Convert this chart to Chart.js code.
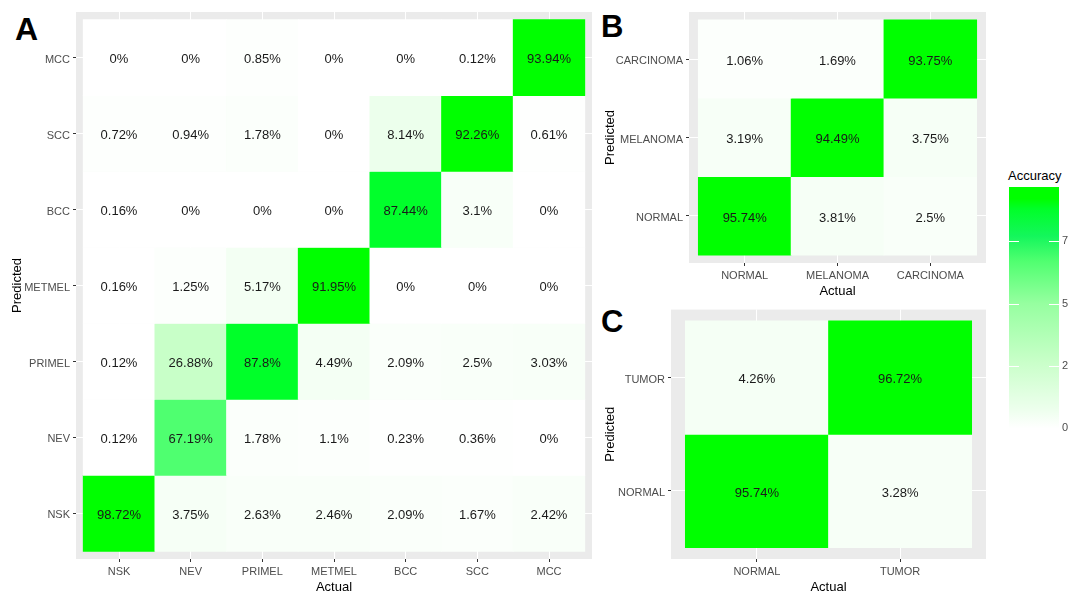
<!DOCTYPE html>
<html>
<head>
<meta charset="utf-8">
<script src="https://cdn.jsdelivr.net/npm/chart.js@4.4.1/dist/chart.umd.min.js"></script>
<style>
  html, body { margin: 0; padding: 0; background: #fff; overflow: hidden; width: 1068px; height: 592px; }
  .box { position: absolute; }
  .tag { position: absolute; font: bold 31px/1 "Liberation Sans", Arial, sans-serif; color: #000; }
  #legTitle { position: absolute; left: 1008px; top: 168px; font: 13px/1.2 "Liberation Sans", Arial, sans-serif; color: #000; }
</style>
</head>
<body>
<div class="tag" style="left:15px;top:13px;font-size:32px">A</div>
<div class="tag" style="left:601px;top:11px">B</div>
<div class="tag" style="left:601px;top:306px">C</div>
<div class="box" style="left:0;top:0;width:600px;height:600px"><canvas id="chartA"></canvas></div>
<div class="box" style="left:590px;top:0;width:410px;height:300px"><canvas id="chartB"></canvas></div>
<div class="box" style="left:590px;top:300px;width:410px;height:300px"><canvas id="chartC"></canvas></div>
<div id="legTitle">Accuracy</div>
<div class="box" style="left:1000px;top:170px;width:80px;height:268px"><canvas id="legendBar"></canvas></div>
<script>
// ---- data (rows = predicted, bottom to top; columns = actual) ----
const labelsA = ["NSK", "NEV", "PRIMEL", "METMEL", "BCC", "SCC", "MCC"];
const valuesA = [
  [98.72, 3.75, 2.63, 2.46, 2.09, 1.67, 2.42],   // NSK
  [0.12, 67.19, 1.78, 1.1, 0.23, 0.36, 0],       // NEV
  [0.12, 26.88, 87.8, 4.49, 2.09, 2.5, 3.03],    // PRIMEL
  [0.16, 1.25, 5.17, 91.95, 0, 0, 0],            // METMEL
  [0.16, 0, 0, 0, 87.44, 3.1, 0],                // BCC
  [0.72, 0.94, 1.78, 0, 8.14, 92.26, 0.61],      // SCC
  [0, 0, 0.85, 0, 0, 0.12, 93.94]                // MCC
];

const labelsB = ["NORMAL", "MELANOMA", "CARCINOMA"];
const valuesB = [
  [95.74, 3.81, 2.5],
  [3.19, 94.49, 3.75],
  [1.06, 1.69, 93.75]
];

const labelsC = ["NORMAL", "TUMOR"];
const valuesC = [
  [95.74, 3.28],
  [4.26, 96.72]
];

const LEGEND_MAX = 96.72;
const LEGEND_TICKS = [0, 25, 50, 75];

const STOP_VALUES = [0, 8, 27, 50, 67, 77, 88, 92];
const STOP_COLORS = [
  [255, 255, 255], [236, 255, 236], [200, 255, 200], [150, 255, 160],
  [80, 255, 112], [20, 246, 92], [0, 255, 40], [0, 255, 0]
];

const FONT = '"Liberation Sans", Arial, sans-serif';
const rgb = c => `rgb(${c[0]},${c[1]},${c[2]})`;

function fillFor(v) {
  if (v <= STOP_VALUES[0]) return rgb(STOP_COLORS[0]);
  for (let i = 1; i < STOP_VALUES.length; i++) {
    if (v <= STOP_VALUES[i]) {
      const t = (v - STOP_VALUES[i - 1]) / (STOP_VALUES[i] - STOP_VALUES[i - 1]);
      const a = STOP_COLORS[i - 1], b = STOP_COLORS[i];
      return rgb(a.map((x, k) => Math.round(x + (b[k] - x) * t)));
    }
  }
  return rgb(STOP_COLORS[STOP_COLORS.length - 1]);
}

// grey ggplot panel behind the tiles
const panelBg = {
  id: "panelBg",
  beforeDraw(chart) {
    const { ctx, chartArea: a } = chart;
    ctx.save();
    ctx.fillStyle = "#ebebeb";
    ctx.fillRect(a.left, a.top, a.right - a.left, a.bottom - a.top);
    ctx.restore();
  }
};

// percentage text in each tile
const cellText = {
  id: "cellText",
  afterDatasetsDraw(chart) {
    const ctx = chart.ctx;
    const meta = chart.getDatasetMeta(0);
    const data = chart.data.datasets[0].data;
    ctx.save();
    ctx.font = "13px " + FONT;
    ctx.fillStyle = "#1a1a1a";
    ctx.textAlign = "center";
    ctx.textBaseline = "middle";
    meta.data.forEach((bar, i) => {
      ctx.fillText(data[i].v + "%", bar.x, (bar.y + bar.base) / 2 + 2);
    });
    ctx.restore();
  }
};

function axis(labels, o) {
  return {
    type: "linear",
    offset: false,
    min: -0.6,
    max: labels.length - 0.4,
    afterBuildTicks: s => { s.ticks = labels.map((_, i) => ({ value: i })); },
    afterFit: s => { if (o.width) s.width = o.width; if (o.height) s.height = o.height; },
    ticks: {
      callback: v => labels[v],
      autoSkip: false, maxRotation: 0,
      padding: o.tickPad, labelOffset: o.labelOffset || 0, color: "#4d4d4d",
      font: { family: FONT, size: 11 }
    },
    grid: { offset: false, color: "#ffffff", lineWidth: 1, tickLength: 3, tickColor: "#333333", tickWidth: 1 },
    border: { display: false },
    title: {
      display: true, text: o.title, color: "#000",
      font: { family: FONT, size: 13 },
      padding: o.titlePad
    }
  };
}

function heatmap(id, labels, values, o) {
  const cells = [];
  values.forEach((row, r) => row.forEach((v, c) => cells.push({ x: c, y: [r - 0.5, r + 0.5], v })));
  new Chart(document.getElementById(id), {
    type: "bar",
    data: {
      datasets: [{
        data: cells,
        backgroundColor: cells.map(d => fillFor(d.v)),
        barPercentage: 1,
        categoryPercentage: 1,
        borderWidth: 0
      }]
    },
    options: {
      animation: false,
      responsive: true,
      maintainAspectRatio: false,
      layout: { padding: o.padding },
      plugins: { legend: { display: false }, tooltip: { enabled: false } },
      scales: {
        x: axis(labels, { height: o.xH, tickPad: 3, title: "Actual", titlePad: { top: 0, bottom: o.xTitlePad } }),
        y: axis(labels, { width: o.yW, tickPad: 3, labelOffset: 2, title: "Predicted", titlePad: { top: o.yTitlePad, bottom: 0 } })
      }
    },
    plugins: [panelBg, cellText]
  });
}

heatmap("chartA", labelsA, valuesA, { padding: { top: 12, right: 8, left: 0, bottom: 0 }, xH: 41, yW: 76, xTitlePad: 5, yTitlePad: 10 });
heatmap("chartB", labelsB, valuesB, { padding: { top: 12, right: 14, left: 0, bottom: 0 }, xH: 37, yW: 99, xTitlePad: 1, yTitlePad: 13 });
heatmap("chartC", labelsC, valuesC, { padding: { top: 8, right: 14, left: 0, bottom: 0 }, xH: 41, yW: 81, xTitlePad: 5, yTitlePad: 13 });

// ---- colourbar legend ----
function barGradient(chart) {
  const a = chart.chartArea;
  if (!a) return rgb(STOP_COLORS[STOP_COLORS.length - 1]);
  const y = chart.scales.y;
  const g = chart.ctx.createLinearGradient(0, y.getPixelForValue(0), 0, y.getPixelForValue(LEGEND_MAX));
  STOP_VALUES.forEach((v, i) => g.addColorStop(Math.min(v / LEGEND_MAX, 1), rgb(STOP_COLORS[i])));
  return g;
}

const colorbarTicks = {
  id: "colorbarTicks",
  afterDatasetsDraw(chart) {
    const { ctx, chartArea: a, scales: { y } } = chart;
    ctx.save();
    ctx.strokeStyle = "#ffffff";
    ctx.lineWidth = 1;
    LEGEND_TICKS.forEach(v => {
      const p = Math.round(y.getPixelForValue(v)) + 0.5;
      ctx.beginPath();
      ctx.moveTo(a.left, p); ctx.lineTo(a.left + 10, p);
      ctx.moveTo(a.right - 10, p); ctx.lineTo(a.right, p);
      ctx.stroke();
    });
    ctx.restore();
  }
};

new Chart(document.getElementById("legendBar"), {
  type: "bar",
  data: {
    labels: [""],
    datasets: [{
      data: [[0, LEGEND_MAX]],
      backgroundColor: ctx => barGradient(ctx.chart),
      barPercentage: 1,
      categoryPercentage: 1,
      borderWidth: 0
    }]
  },
  options: {
    animation: false,
    responsive: true,
    maintainAspectRatio: false,
    layout: { padding: { left: 9, top: 17, bottom: 5, right: 0 } },
    plugins: { legend: { display: false }, tooltip: { enabled: false } },
    scales: {
      x: { display: false },
      y: {
        position: "right",
        min: 0,
        max: LEGEND_MAX,
        afterBuildTicks: s => { s.ticks = LEGEND_TICKS.map(v => ({ value: v })); },
        afterFit: s => { s.width = 21; },
        grid: { display: false, drawTicks: false },
        border: { display: false },
        ticks: { padding: 3, color: "#4d4d4d", font: { family: FONT, size: 11 } }
      }
    }
  },
  plugins: [colorbarTicks]
});
</script>
</body>
</html>
